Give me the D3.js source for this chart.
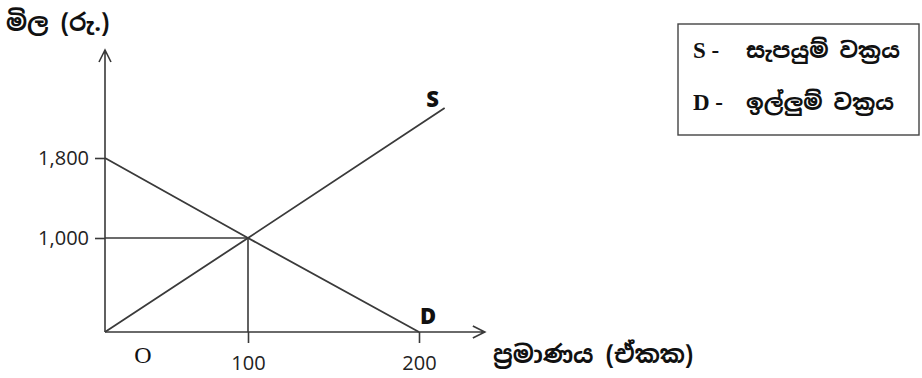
<!DOCTYPE html>
<html>
<head>
<meta charset="utf-8">
<script src="https://cdn.jsdelivr.net/npm/d3@7"></script>
<style>
  body { margin: 0; background: #fff; }
  svg { display: block; }
  .si { font-family: "Noto Sans Sinhala", "Iskoola Pota", "Noto Sans", sans-serif; font-weight: bold; }
</style>
</head>
<body>
<div id="plot"></div>
<script>

// data
  var qtyTicks = [100, 200];
  var priceTicks = [1000, 1800];
  var supplyQ = [0, 100, 215];
  var supplyP = [0, 1000, 2300];
  var demandQ = [0, 100, 200];
  var demandP = [1800, 1000, 0];
  var equilibrium = [100, 1000];
  var legendKeys = ["S", "D"];
  var legendNames = ["සැපයුම් වක්‍රය", "ඉල්ලුම් වක්‍රය"];

  var w = 922;
  var h = 378;
  var ink = "#3a3a3a";

// the sketch is not drawn to scale, so piecewise scales
  var xScale = d3.scaleLinear()
      .domain([0, 100, 200])
      .range([105, 248, 419]);

  var yScale = d3.scaleLinear()
      .domain([0, 1000, 1800])
      .range([332, 238, 158]);

  var x0 = xScale(0), y0 = yScale(0);
  var xEnd = xScale(238.5), yEnd = yScale(2880);

  var svg = d3.select("div#plot")
    .append("svg")
      .attr("width", w)
      .attr("height", h);

// axes lines with open arrow heads

  svg.append("path")
      .attr("d", `M${x0},${y0} L${x0},${yEnd} M${x0 - 6},${yEnd + 12} L${x0},${yEnd} L${x0 + 6},${yEnd + 12}`)
      .attr("fill", "none")
      .attr("stroke", ink)
      .attr("stroke-width", 1.6);

  svg.append("path")
      .attr("d", `M${x0},${y0} L${xEnd},${y0} M${xEnd - 12},${y0 - 6} L${xEnd},${y0} L${xEnd - 12},${y0 + 6}`)
      .attr("fill", "none")
      .attr("stroke", ink)
      .attr("stroke-width", 1.6);

// ticks and labels

  var yAxis = d3.axisLeft(yScale)
      .tickValues(priceTicks)
      .tickSize(10)
      .tickPadding(6)
      .tickFormat(d3.format(","));

  var xAxis = d3.axisBottom(xScale)
      .tickValues(qtyTicks)
      .tickSize(11)
      .tickPadding(13)
      .tickFormat(d3.format("d"));

  var gy = svg.append("g")
      .attr("transform", `translate(${x0},0)`)
      .call(yAxis);

  var gx = svg.append("g")
      .attr("transform", `translate(0,${y0})`)
      .call(xAxis);

  [gx, gy].forEach(g => {
    g.attr("font-size", null).attr("font-family", null);
    g.select(".domain").remove();
    g.selectAll("line").attr("stroke", ink).attr("stroke-width", 1.6);
    g.selectAll("text")
        .attr("fill", "#222")
        .attr("font-family", "'Open Sans', sans-serif")
        .attr("font-size", 20);
  });

// guide lines to equilibrium

  svg.append("line")
      .attr("x1", x0).attr("y1", yScale(equilibrium[1]))
      .attr("x2", xScale(equilibrium[0])).attr("y2", yScale(equilibrium[1]))
      .attr("stroke", ink).attr("stroke-width", 1.6);

  svg.append("line")
      .attr("x1", xScale(equilibrium[0])).attr("y1", yScale(equilibrium[1]))
      .attr("x2", xScale(equilibrium[0])).attr("y2", y0)
      .attr("stroke", ink).attr("stroke-width", 1.6);

// supply and demand curves

  var line = d3.line()
      .x(d => xScale(d[0]))
      .y(d => yScale(d[1]));

  svg.append("path")
      .attr("d", line(d3.zip(supplyQ, supplyP)))
      .attr("fill", "none")
      .attr("stroke", ink)
      .attr("stroke-width", 1.8);

  svg.append("path")
      .attr("d", line(d3.zip(demandQ, demandP)))
      .attr("fill", "none")
      .attr("stroke", ink)
      .attr("stroke-width", 1.8);

  svg.append("text")
      .attr("x", xScale(supplyQ[2]) - 12)
      .attr("y", yScale(supplyP[2]) - 1)
      .attr("text-anchor", "middle")
      .style("font-family", "'Open Sans', sans-serif")
      .style("font-weight", "800")
      .style("font-size", "22px")
      .attr("fill", "#111")
      .text("S");

  svg.append("text")
      .attr("x", xScale(demandQ[2]) + 9)
      .attr("y", yScale(demandP[2]) - 8)
      .attr("text-anchor", "middle")
      .style("font-family", "'Open Sans', sans-serif")
      .style("font-weight", "800")
      .style("font-size", "22px")
      .attr("fill", "#111")
      .text("D");

// origin and axis titles

  svg.append("text")
      .attr("x", x0 + 38)
      .attr("y", y0 + 31)
      .attr("text-anchor", "middle")
      .style("font-family", "'Liberation Serif', serif")
      .style("font-size", "24px")
      .attr("fill", "#111")
      .text("O");

  svg.append("text")
      .attr("class", "si")
      .attr("x", 6)
      .attr("y", 31)
      .style("font-size", "24px")
      .attr("fill", "#111")
      .text("මිල (රු.)");

  svg.append("text")
      .attr("class", "si")
      .attr("x", 493)
      .attr("y", 363)
      .style("font-size", "24px")
      .attr("fill", "#111")
      .text("ප්‍රමාණය (ඒකක)");

// legend box

  svg.append("rect")
      .attr("x", 678)
      .attr("y", 24)
      .attr("width", 241)
      .attr("height", 111)
      .attr("fill", "none")
      .attr("stroke", "#444")
      .attr("stroke-width", 1.4);

  var leg = svg.selectAll("g.leg")
      .data(legendKeys)
    .enter().append("g")
      .attr("class", "leg")
      .attr("transform", (d, i) => `translate(693, ${58 + i * 52})`);

  leg.append("text")
      .style("font-family", "'Liberation Serif', serif")
      .style("font-weight", "bold")
      .style("font-size", "23px")
      .attr("fill", "#111")
      .text(d => d + " -");

  leg.append("text")
      .attr("class", "si")
      .attr("x", 53)
      .style("font-size", "22px")
      .attr("fill", "#111")
      .text((d, i) => legendNames[i]);

</script>
</body>
</html>
